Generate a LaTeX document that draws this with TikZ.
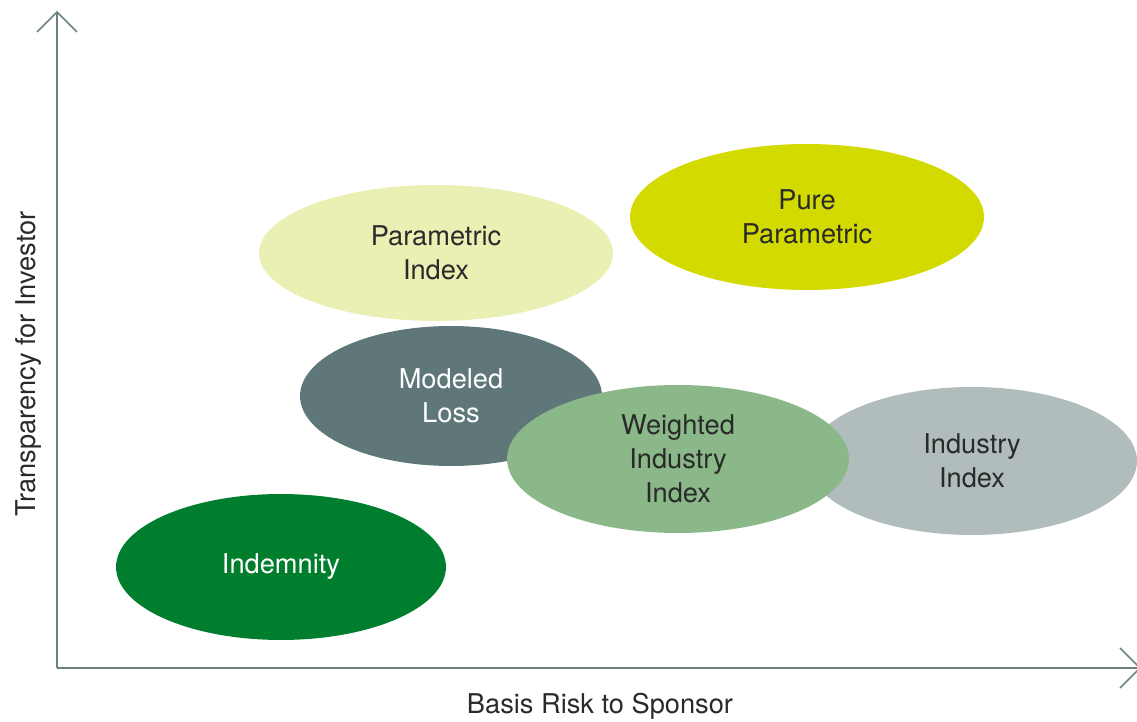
\documentclass[tikz,border=0pt]{standalone}
\usepackage{fontspec}
\setmainfont{TeX Gyre Heros}
\usepackage{tikz}
\usetikzlibrary{positioning, calc}
\usetikzlibrary{shapes.geometric}

\definecolor{axisgrey}{HTML}{6B8182}
\definecolor{indemgreen}{HTML}{007E2E}
\definecolor{modelgrey}{HTML}{5F7779}
\definecolor{parapale}{HTML}{EAEFB4}
\definecolor{purelime}{HTML}{D3DA00}
\definecolor{indgrey}{HTML}{B0BDBC}
\definecolor{weightgreen}{HTML}{8AB888}
\definecolor{txtdark}{HTML}{2A2A2A}

\tikzset{
    blob/.style={ellipse, inner sep=0pt, align=center, text=txtdark,
        font=\fontsize{15.5}{19.5}\selectfont},
    axisline/.style={axisgrey, line width=1.1pt},
    chevron/.style={axisgrey, line width=0.9pt},
    axislabel/.style={text=txtdark, font=\fontsize{15.5}{19.5}\selectfont}
}

\begin{document}
\begin{tikzpicture}[x=0.02cm, y=-0.02cm]
                \useasboundingbox (0,0) rectangle (1137,722);
                % axes
                \coordinate (origin) at (57,668);
                \coordinate (ytop) at (57,12);
                \coordinate (xend) at (1140,668);
                \draw[axisline] (origin) -- (ytop);
                \draw[axisline] (origin) -- (xend);
                \draw[chevron] ($(ytop)+(-20,20)$) -- (ytop) -- ($(ytop)+(20,20)$);
                \draw[chevron] ($(xend)+(-20,-20)$) -- (xend) -- ($(xend)+(-20,20)$);
                \node[axislabel] (xlab) at (600,706) {Basis Risk to Sponsor};
                \node[axislabel, rotate=90] (ylab) at (29,364) {Transparency for Investor};
                % ellipses
                \node[blob, fill=indemgreen, text=white, minimum width=6.6cm, minimum height=2.92cm] (indem) at (281,567) {Indemnity};
                \node[blob, fill=parapale, minimum width=7.08cm, minimum height=2.72cm] (paraidx) at (436,253) {Parametric\\Index};
                \node[blob, fill=purelime, minimum width=7.08cm, minimum height=2.92cm] (pure) at (807,217) {Pure\\Parametric};
                \node[blob, fill=modelgrey, text=white, minimum width=6.04cm, minimum height=2.8cm] (model) at (451,396) {Modeled\\Loss};
                \node[blob, fill=indgrey, minimum width=6.6cm, minimum height=2.96cm] (indidx) at (972,461) {Industry\\Index};
                \node[blob, fill=weightgreen, minimum width=6.84cm, minimum height=2.96cm] (weight) at (678,459) {Weighted\\Industry\\Index};
            \end{tikzpicture}
\end{document}
